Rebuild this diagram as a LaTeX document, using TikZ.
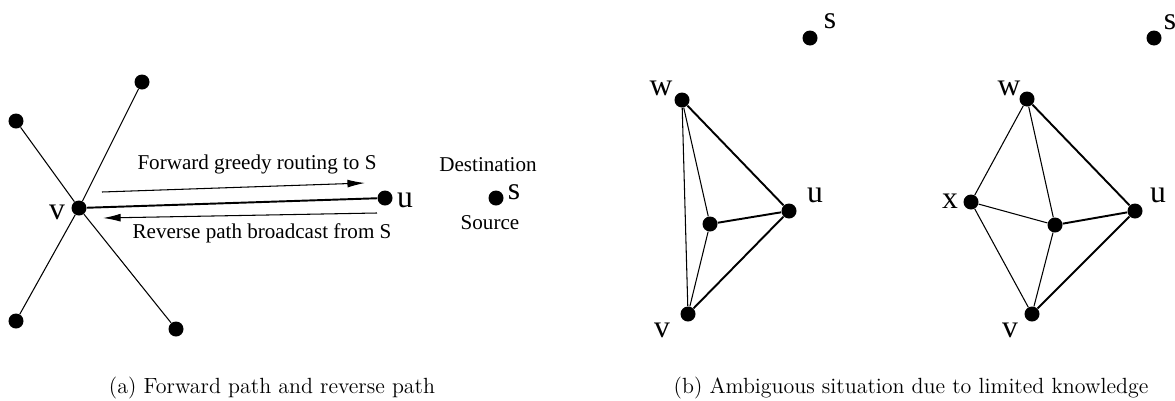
\documentclass[tikz,border=0pt]{standalone}
\usepackage{fontspec}
\newfontfamily\timesfont{Liberation Serif}
\usepackage{amsmath}
\usetikzlibrary{arrows.meta}
\begin{document}
\begin{tikzpicture}[scale=0.2]
		\tikzstyle{every node}+=[inner sep=0pt]
		\tikzstyle{dot}=[circle,fill=black,minimum size=0.3cm]
		\tikzstyle{lbl}=[font=\timesfont\fontsize{18}{18}\selectfont]
		\tikzstyle{note}=[font=\timesfont\fontsize{12}{12}\selectfont]
		\tikzstyle{caption}=[font=\fontsize{12.5}{12.5}\selectfont]
		\tikzstyle{thick edge}=[line width=1.1pt]
		\tikzstyle{thin edge}=[line width=0.6pt]
		\tikzstyle{path arrow}=[thin edge,-{Latex[length=10pt,width=4.5pt]}]
		\useasboundingbox (0,0) rectangle (117.5,-40);
		% (a) forward path and reverse path
		\node [dot] (v) at (7.9,-20.8) {};
		\node [dot] (n1) at (1.6,-12.1) {};
		\node [dot] (n2) at (14.2,-8.2) {};
		\node [dot] (n3) at (1.6,-32.1) {};
		\node [dot] (n4) at (17.6,-32.9) {};
		\node [dot] (u) at (38.5,-19.8) {};
		\node [dot] (s) at (49.6,-19.8) {};
		\draw [thin edge] (v) -- (n1);
		\draw [thin edge] (v) -- (n2);
		\draw [thin edge] (v) -- (n3);
		\draw [thin edge] (v) -- (n4);
		\draw [thick edge] (v) -- (u);
		\node [lbl] (vlbl) at (5.7,-21.2) {v};
		\node [lbl] (ulbl) at (40.5,-20.0) {u};
		\node [lbl] (slbl) at (51.4,-19.2) {s};
		\node [note] (dest) at (48.8,-16.5) {Destination};
		\node [note] (src) at (49.0,-22.3) {Source};
		\coordinate (fwdA) at (10.2,-19.2);
		\coordinate (fwdB) at (36.5,-18.3);
		\coordinate (revA) at (37.7,-21.3);
		\coordinate (revB) at (10.3,-21.8);
		\draw [path arrow] (fwdA) -- (fwdB);
		\draw [path arrow] (revA) -- (revB);
		\node [note] (fwd) at (25.7,-16.4) {Forward greedy routing to S};
		\node [note] (rev) at (26.2,-23.3) {Reverse path broadcast from S};
		\node [caption] (capa) at (27.2,-38.8) {(a) Forward path and reverse path};
		% (b) ambiguous situation, first view
		\node [dot] (s1) at (81.0,-3.8) {};
		\node [dot] (w1) at (68.2,-10.0) {};
		\node [dot] (c1) at (71.0,-22.4) {};
		\node [dot] (u1) at (78.9,-21.1) {};
		\node [dot] (v1) at (68.8,-31.4) {};
		\draw [thick edge] (w1) -- (u1) -- (v1);
		\draw [thick edge] (c1) -- (u1);
		\draw [thin edge] (w1) -- (v1);
		\draw [thin edge] (w1) -- (c1) -- (v1);
		\node [lbl] (s1lbl) at (83.0,-2.1) {s};
		\node [lbl] (w1lbl) at (66.1,-8.8) {w};
		\node [lbl] (u1lbl) at (81.5,-19.5) {u};
		\node [lbl] (v1lbl) at (66.2,-33.0) {v};
		% (b) ambiguous situation, second view
		\node [dot] (s2) at (115.4,-3.8) {};
		\node [dot] (w2) at (102.7,-9.9) {};
		\node [dot] (x2) at (97.1,-20.2) {};
		\node [dot] (c2) at (105.5,-22.5) {};
		\node [dot] (u2) at (113.5,-21.1) {};
		\node [dot] (v2) at (103.2,-31.4) {};
		\draw [thick edge] (w2) -- (u2) -- (v2);
		\draw [thick edge] (c2) -- (u2);
		\draw [thin edge] (w2) -- (x2) -- (v2);
		\draw [thin edge] (w2) -- (c2) -- (v2);
		\draw [thin edge] (x2) -- (c2);
		\node [lbl] (s2lbl) at (117.0,-2.2) {s};
		\node [lbl] (w2lbl) at (100.9,-8.8) {w};
		\node [lbl] (x2lbl) at (95.0,-20.1) {x};
		\node [lbl] (u2lbl) at (115.8,-19.5) {u};
		\node [lbl] (v2lbl) at (101.0,-33.0) {v};
		\node [caption] (capb) at (91.1,-38.8) {(b) Ambiguous situation due to limited knowledge};
	\end{tikzpicture}
\end{document}
